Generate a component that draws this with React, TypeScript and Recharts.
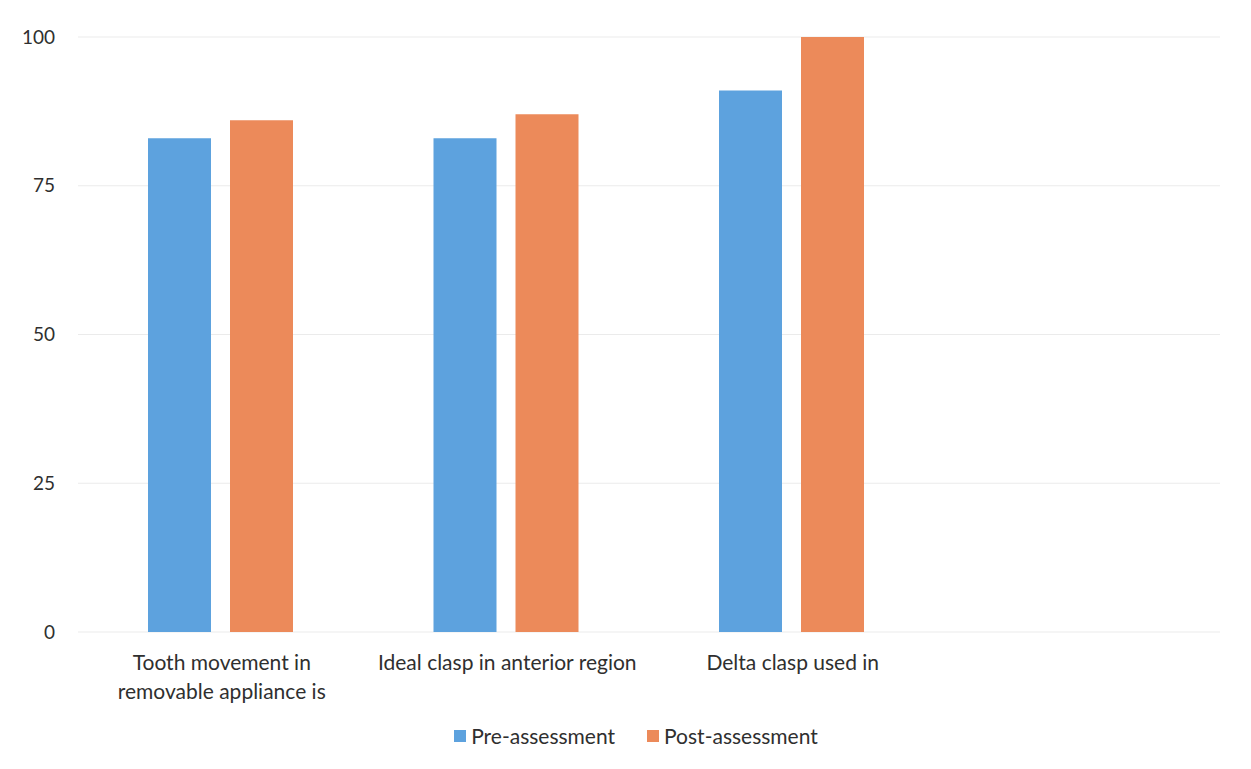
import { Bar, BarChart, CartesianGrid, Legend, XAxis, YAxis } from 'recharts'

const categories = [
  'Tooth movement in removable appliance is',
  'Ideal clasp in anterior region',
  'Delta clasp used in',
  '',
]
const tickLines = [
  ['Tooth movement in', 'removable appliance is'],
  ['Ideal clasp in anterior region'],
  ['Delta clasp used in'],
  [],
]
const preAssessment = [83, 83, 91, null]
const postAssessment = [86, 87, 100, null]
const yTicks = [0, 25, 50, 75, 100]

const chartData = categories.map((name, i) => ({
  name,
  pre: preAssessment[i],
  post: postAssessment[i],
}))

const FONT = 'Lato, "Open Sans", sans-serif'
const TEXT = '#2f2f2f'

function CategoryTick(props: any) {
  const { x, y, index } = props
  const lines = tickLines[index] ?? []
  return (
    <g transform={`translate(${x + 1},${y})`}>
      {lines.map((line, i) => (
        <text
          key={i}
          x={0}
          y={0}
          dy={30 + i * 29}
          textAnchor='middle'
          fill={TEXT}
          fontSize={21}
          fontFamily={FONT}
        >
          {line}
        </text>
      ))}
    </g>
  )
}

function LegendContent() {
  const items = [
    { label: 'Pre-assessment', color: '#5DA2DE' },
    { label: 'Post-assessment', color: '#EC8A5A' },
  ]
  return (
    <div
      style={{
        display: 'flex',
        justifyContent: 'center',
        gap: 32,
        fontFamily: FONT,
        fontSize: 21,
        color: TEXT,
        paddingTop: 6,
        paddingLeft: 52,
      }}
    >
      {items.map((it) => (
        <div key={it.label} style={{ display: 'flex', alignItems: 'center' }}>
          <span
            style={{
              display: 'inline-block',
              width: 12,
              height: 12,
              background: it.color,
              marginRight: 5,
            }}
          />
          {it.label}
        </div>
      ))}
    </div>
  )
}

export default function App() {
  return (
    <div style={{ margin: -8, background: '#ffffff' }}>
      <BarChart
        width={1251}
        height={769}
        data={chartData}
        margin={{ top: 37, right: 31, bottom: 12, left: 0 }}
        barSize={63}
        barGap={19}
      >
        <CartesianGrid vertical={false} stroke='#EBEBEB' />
        <XAxis
          dataKey='name'
          axisLine={false}
          tickLine={false}
          interval={0}
          height={85}
          tick={<CategoryTick />}
        />
        <YAxis
          domain={[0, 100]}
          ticks={yTicks}
          width={78}
          axisLine={false}
          tickLine={false}
          tickSize={0}
          tickMargin={23}
          tick={{ fill: TEXT, fontSize: 19, fontFamily: FONT }}
        />
        <Legend verticalAlign='bottom' height={40} content={<LegendContent />} />
        <Bar dataKey='pre' name='Pre-assessment' fill='#5DA2DE' isAnimationActive={false} />
        <Bar dataKey='post' name='Post-assessment' fill='#EC8A5A' isAnimationActive={false} />
      </BarChart>
    </div>
  )
}
